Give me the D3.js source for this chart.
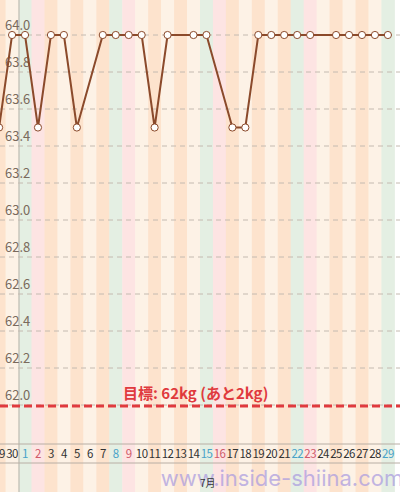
<!DOCTYPE html><html><head><meta charset="utf-8">
<script src="https://cdn.jsdelivr.net/npm/d3@7"></script>
<style>body{margin:0}svg{display:block;font-family:"Noto Sans CJK JP","Noto Sans",sans-serif}</style></head><body>
<svg id="c" width="400" height="492"></svg>
<script>
const dayLabels=["29","30","1","2","3","4","5","6","7","8","9","10","11","12","13","14","15","16","17","18","19","20","21","22","23","24","25","26","27","28","29"];
const dayTypes=["n","n","sat","sun","n","n","n","n","n","sat","sun","n","n","n","n","n","sat","sun","n","n","n","n","n","sat","sun","n","n","n","n","n","sat"];
const weights=[63.5,64,64,63.5,64,64,63.5,null,64,64,64,64,63.5,64,null,64,64,null,63.5,63.5,64,64,64,64,64,null,64,64,64,64,64];
const yTicks=[62.0,62.2,62.4,62.6,62.8,63.0,63.2,63.4,63.6,63.8,64.0];
const goal=62, goalText="目標: 62kg (あと2kg)", monthLabel="7月";
const svg=d3.select("#c");
const x=d3.scaleLinear().domain([0,30]).range([-0.9,387.9]);
const y=d3.scaleLinear().domain([62,64]).range([405,35]);
const w=x(1)-x(0);
const col={sat:"#e4efe3",sun:"#fde4e3"};
svg.selectAll("rect.s").data(dayTypes).join("rect").attr("x",(d,i)=>x(i)-w/2).attr("y",0).attr("width",w+0.5).attr("height",492)
 .attr("fill",(d,i)=>col[d]||(i%2?"#fdf2e6":"#fde3cd"));
svg.append("line").attr("x1",19).attr("x2",19).attr("y1",0).attr("y2",492).attr("stroke","#b8b0a8").attr("stroke-width",1);
svg.selectAll("line.g").data(yTicks).join("line").attr("x1",0).attr("x2",400).attr("y1",d=>y(d)).attr("y2",d=>y(d)).attr("stroke","#c4bab0").attr("stroke-dasharray","5,4");
svg.selectAll("text.yl").data(yTicks).join("text").attr("x",5).attr("y",d=>y(d)-5).attr("font-size",13).attr("fill","#7a6a5c").text(d=>d.toFixed(1));
svg.append("line").attr("x1",0).attr("x2",400).attr("y1",y(goal)+1).attr("y2",y(goal)+1).attr("stroke","#e03a3e").attr("stroke-width",3).attr("stroke-dasharray","8,4");
svg.append("text").attr("x",123).attr("y",399).attr("font-size",15).attr("font-weight","bold").attr("fill","#e03a3e").text(goalText);
const pts=weights.map((v,i)=>({i,v})).filter(d=>d.v!=null);
svg.append("path").datum(pts).attr("d",d3.line().x(d=>x(d.i)).y(d=>y(d.v))).attr("fill","none").attr("stroke","#8b4a2b").attr("stroke-width",2);
svg.selectAll("circle").data(pts).join("circle").attr("cx",d=>x(d.i)).attr("cy",d=>y(d.v)).attr("r",3.6).attr("fill","#fff").attr("stroke","#8b4a2b").attr("stroke-width",1);
svg.append("line").attr("x1",0).attr("x2",400).attr("y1",444).attr("y2",444).attr("stroke","#b8aea4");
svg.append("line").attr("x1",0).attr("x2",400).attr("y1",463).attr("y2",463).attr("stroke","#b8aea4");
const lc={sat:"#4aa3c8",sun:"#d05a6a"};
svg.selectAll("text.xl").data(dayLabels).join("text").attr("x",(d,i)=>x(i)).attr("y",458).attr("text-anchor","middle").attr("font-size",11.5).attr("letter-spacing",-0.6)
 .attr("fill",(d,i)=>lc[dayTypes[i]]||"#333").text(d=>d);
svg.append("text").attr("x",282).attr("y",486).attr("text-anchor","middle").attr("font-size",22).attr("fill","#a99ae0").attr("opacity",0.7).attr("font-family","Inter,sans-serif").text("www.inside-shiina.com");
svg.append("text").attr("x",200).attr("y",487).attr("font-size",10).attr("fill","#333").text(monthLabel);
</script></body></html>
